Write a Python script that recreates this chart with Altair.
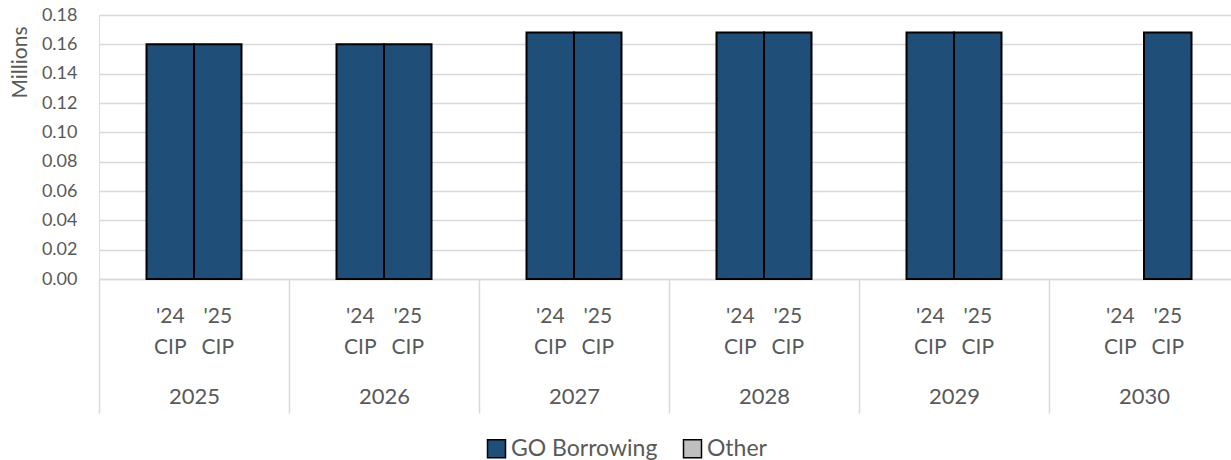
import altair as alt
import pandas as pd

years = ["2025", "2026", "2027", "2028", "2029", "2030"]
cips = ["'24 CIP", "'25 CIP"]
cip_labels = ["'24\nCIP", "'25\nCIP"]
go_24 = [0.16, 0.16, 0.168, 0.168, 0.168, None]
go_25 = [0.16, 0.16, 0.168, 0.168, 0.168, 0.168]
series = ["GO Borrowing", "Other"]
colors = ["#1F4E79", "#BFBFBF"]
y_ticks = [0, 0.02, 0.04, 0.06, 0.08, 0.10, 0.12, 0.14, 0.16, 0.18]

rows = []
for i, y in enumerate(years):
    for c, vals in zip(cips, [go_24, go_25]):
        if vals[i] is not None:
            rows.append({"year": y, "cip": c, "value": vals[i], "series": "GO Borrowing"})
bars = pd.DataFrame(rows)

lab_rows = []
for y in years:
    for c, l in zip(cips, cip_labels):
        lab_rows.append({"year": y, "cip": c, "label": l})
labels = pd.DataFrame(lab_rows)

FONT = "Lato"
GREY = "#595959"
W, H = 1132, 264

xscale = alt.Scale(domain=years, paddingInner=0, paddingOuter=0, range=[0, 1140])
xoff = alt.XOffset("cip:N", scale=alt.Scale(domain=cips, paddingInner=0, paddingOuter=1))

bar = alt.Chart(bars).mark_bar(stroke="black", strokeWidth=2).encode(
    x=alt.X("year:N", scale=xscale, sort=years,
            axis=alt.Axis(title=None, labelAngle=0, labelFontSize=22, labelColor=GREY,
                          labelFont=FONT, labelPadding=-27, tickBand="extent",
                          tickSize=134, tickColor="#D9D9D9", tickWidth=1.5,
                          domainColor="#D9D9D9", domainWidth=1.5, grid=False)),
    xOffset=xoff,
    y=alt.Y("value:Q", scale=alt.Scale(domain=[0, 0.18], nice=False),
            axis=alt.Axis(title="Millions", values=y_ticks, format=".2f",
                          labelFontSize=18, labelColor=GREY, labelFont=FONT,
                          labelPadding=22, domain=False, ticks=False,
                          gridColor="#D9D9D9", gridWidth=1.5,
                          titleFont=FONT, titleFontSize=21, titleFontWeight="normal",
                          titleColor=GREY, titleX=-79, titleY=47, titleAngle=270,
                          titleBaseline="middle", titleAlign="center")),
    color=alt.Color("series:N", scale=alt.Scale(domain=series, range=colors),
                    legend=alt.Legend(title=None, orient="none", direction="horizontal",
                                      legendX=386, legendY=422, symbolType="square",
                                      symbolSize=324, symbolStrokeColor="black",
                                      symbolStrokeWidth=1.5, symbolOpacity=1,
                                      labelFontSize=23, labelColor=GREY, labelFont=FONT,
                                      columnPadding=22, padding=0, labelOffset=3)),
)

txt = alt.Chart(labels).mark_text(lineBreak="\n", fontSize=21, font=FONT, color=GREY,
                                  baseline="top", lineHeight=31).encode(
    x=alt.X("year:N", scale=xscale, sort=years),
    xOffset=xoff,
    y=alt.value(H + 27),
    text="label:N",
)

chart = alt.layer(bar, txt).properties(
    width=W, height=H,
    autosize=alt.AutoSizeParams(type="none"),
    padding={"left": 99, "top": 15, "right": 0, "bottom": 181},
).configure_view(stroke=None).configure(background="white")

chart.save("out.html", embed_options={"renderer": "svg", "actions": False})
